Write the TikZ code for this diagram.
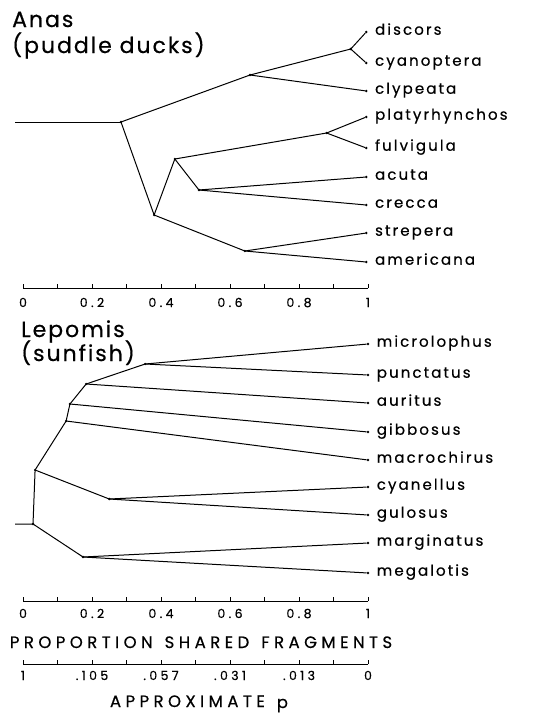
\documentclass[tikz,border=0pt]{standalone}
\usepackage{fontspec}
\setmainfont{Poppins}
\newfontfamily\spacedfont[LetterSpace=14,FakeBold=0.5]{Poppins}
\newfontfamily\capsfont[LetterSpace=27,FakeBold=0.5]{Poppins}
\newfontfamily\titlefont[LetterSpace=9,FakeBold=0.5]{Poppins}

\begin{document}
\begin{tikzpicture}[x=345pt,y=-1pt,
    branch/.style={line width=1pt},
    tipdot/.style={circle,fill,inner sep=0pt,minimum size=2.6pt},
    taxon/.style={anchor=mid west,inner sep=0pt,font=\spacedfont\fontsize{15}{15}\selectfont},
    grouptitle/.style={anchor=base west,inner sep=0pt,font=\titlefont\fontsize{22}{22}\selectfont},
    ticklabel/.style={anchor=base,inner sep=0pt,font=\capsfont\fontsize{12.5}{12.5}\selectfont},
    axistitle/.style={anchor=base,inner sep=0pt,font=\capsfont\fontsize{16.5}{16.5}\selectfont}]
  \useasboundingbox (-0.0667,0) rectangle (1.4812,713);

  % Anas
  \node[grouptitle] (anas1) at (-0.032,27) {Anas};
  \node[grouptitle] (anas2) at (-0.032,53) {(puddle ducks)};

  \coordinate (a0) at (-0.023,122);
  \coordinate (aA) at (0.284,122);
  \coordinate (aB) at (0.658,75);
  \coordinate (aC) at (0.95,49);
  \coordinate (aD) at (0.38,215);
  \coordinate (aE) at (0.44,159);
  \coordinate (aF) at (0.88,133);
  \coordinate (aG) at (0.51,190);
  \coordinate (aH) at (0.643,251);
  \foreach \name/\yy in {discors/32,cyanoptera/63,clypeata/91,platyrhynchos/117,
      fulvigula/148,acuta/177,crecca/205,strepera/233,americana/262}{
    \node[tipdot] (\name) at (0.995,\yy) {};
    \node[taxon] (l-\name) at (1.02,\yy) {\name};
  }
  \foreach \n in {aA,aB,aC,aD,aE,aF,aG,aH}
    \fill (\n) circle (1.3pt);
  \draw[branch] (a0) -- (aA);
  \draw[branch] (aA) -- (aB) -- (aC) -- (discors);
  \draw[branch] (aC) -- (cyanoptera);
  \draw[branch] (aB) -- (clypeata);
  \draw[branch] (aA) -- (aD) -- (aE) -- (aF) -- (platyrhynchos);
  \draw[branch] (aF) -- (fulvigula);
  \draw[branch] (aE) -- (aG) -- (acuta);
  \draw[branch] (aG) -- (crecca);
  \draw[branch] (aD) -- (aH) -- (strepera);
  \draw[branch] (aH) -- (americana);

  % upper axis
  \draw[branch] (0,288) -- (1,288);
  \foreach \t in {0,0.1,...,1.01}
    \draw[branch] (\t,288) -- (\t,284);
  \foreach \t/\lab in {0/0,0.2/0.2,0.4/0.4,0.6/0.6,0.8/0.8,1/1}
    \node[ticklabel] at (\t,307) {\lab};

  % Lepomis
  \node[grouptitle] (lep1) at (-0.006,337) {Lepomis};
  \node[grouptitle] (lep2) at (-0.006,361) {(sunfish)};

  \coordinate (l0) at (-0.023,524);
  \coordinate (lR) at (0.029,524);
  \coordinate (lS) at (0.035,470);
  \coordinate (lT) at (0.125,421);
  \coordinate (lU) at (0.136,404);
  \coordinate (lV) at (0.183,384);
  \coordinate (lW) at (0.354,364);
  \coordinate (lX) at (0.25,499);
  \coordinate (lY) at (0.174,557);
  \foreach \name/\yy in {microlophus/344,punctatus/375,auritus/403,gibbosus/432,
      macrochirus/460,cyanellus/487,gulosus/515,marginatus/543,megalotis/573}{
    \node[tipdot] (\name) at (1,\yy) {};
    \node[taxon] (l-\name) at (1.025,\yy) {\name};
  }
  \foreach \n in {lR,lS,lT,lU,lV,lW,lX,lY}
    \fill (\n) circle (1.3pt);
  \draw[branch] (l0) -- (lR) -- (lS) -- (lT) -- (lU) -- (lV) -- (lW) -- (microlophus);
  \draw[branch] (lW) -- (punctatus);
  \draw[branch] (lV) -- (auritus);
  \draw[branch] (lU) -- (gibbosus);
  \draw[branch] (lT) -- (macrochirus);
  \draw[branch] (lS) -- (lX) -- (cyanellus);
  \draw[branch] (lX) -- (gulosus);
  \draw[branch] (lR) -- (lY) -- (marginatus);
  \draw[branch] (lY) -- (megalotis);

  % lower axes
  \draw[branch] (0,601) -- (1,601);
  \foreach \t in {0,0.1,...,1.01}
    \draw[branch] (\t,601) -- (\t,597);
  \foreach \t/\lab in {0/0,0.2/0.2,0.4/0.4,0.6/0.6,0.8/0.8,1/1}
    \node[ticklabel] at (\t,618) {\lab};
  \node[axistitle] (xtitle) at (0.516,648) {PROPORTION\hspace{12pt}SHARED\hspace{12pt}FRAGMENTS};

  \draw[branch] (0,664) -- (1,664);
  \foreach \t in {0,0.1,...,1.01}
    \draw[branch] (\t,664) -- (\t,660);
  \foreach \t/\lab in {0/1,0.2/.105,0.4/.057,0.6/.031,0.8/.013,1/0}
    \node[ticklabel] at (\t,680) {\lab};
  \node[axistitle] (ptitle) at (0.51,707) {APPROXIMATE\hspace{12pt}\raisebox{-1pt}{p}};
\end{tikzpicture}
\end{document}
